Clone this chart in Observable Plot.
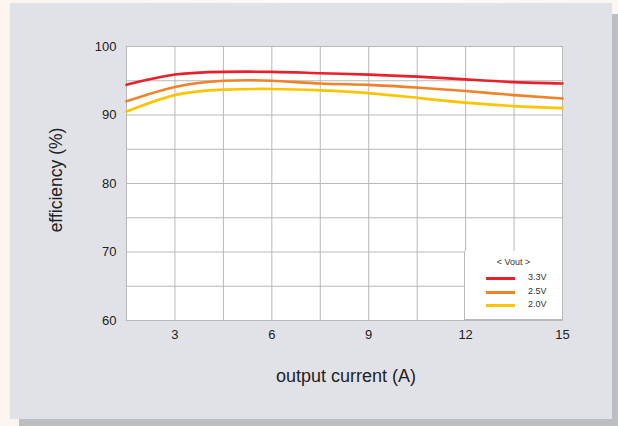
<!DOCTYPE html>
<html><head><meta charset="utf-8">
<script src="https://cdn.jsdelivr.net/npm/d3@7"></script>
<script src="https://cdn.jsdelivr.net/npm/@observablehq/plot@0.6"></script>
<style>
html,body{margin:0;padding:0;}
body{width:618px;height:426px;overflow:hidden;position:relative;background:linear-gradient(90deg,#fbf4ef,#fdfbfa 60%,#fbf6f2);font-family:"Liberation Sans",Arial,sans-serif;}
#shadow{position:absolute;left:19px;top:14px;width:601px;height:412px;background:#bdbec2;}
#panel{position:absolute;left:10px;top:3px;width:602px;height:416px;background:#e1e2e7;}
#chart{position:absolute;left:0;top:0;}
.title{position:absolute;color:#222;font-size:18px;white-space:nowrap;line-height:1;}
#legend{position:absolute;left:464px;top:251px;width:97px;height:68px;background:#fff;border:1px solid #b8b8b8;border-top:none;border-right:none;font-size:9px;color:#333;}
#legend .hdr{position:absolute;left:0;width:97px;top:6px;text-align:center;}
#legend .row{position:absolute;left:21px;height:10px;}
#legend .sw{position:absolute;left:0;top:4px;width:29px;height:3px;}
#legend .lb{position:absolute;left:42px;top:-1px;}
</style></head>
<body>
<div id="shadow"></div>
<div id="panel"></div>
<div id="chart"></div>
<div class="title" id="xt" style="left:346px;top:376px;transform:translate(-50%,-50%);">output current (A)</div>
<div class="title" id="yt" style="left:57px;top:180px;transform:translate(-50%,-50%) rotate(-90deg);font-size:17.5px;">efficiency (%)</div>
<div id="legend"></div>
<script>
const current = [1.5, 3, 4.5, 6, 7.5, 9, 10.5, 12, 13.5, 15];
const eff33 = [94.4, 95.9, 96.3, 96.3, 96.1, 95.9, 95.6, 95.2, 94.8, 94.6];
const eff25 = [92.0, 94.1, 95.0, 95.0, 94.6, 94.4, 94.0, 93.5, 92.9, 92.4];
const eff20 = [90.5, 92.9, 93.7, 93.8, 93.6, 93.2, 92.5, 91.8, 91.3, 91.0];
const seriesNames = ["3.3V", "2.5V", "2.0V"];
const seriesColors = ["#e8202a", "#f08228", "#fcc500"];
const xTicks = [3, 6, 9, 12, 15];
const yTicks = [60, 70, 80, 90, 100];
const xGrid = [3, 4.5, 6, 7.5, 9, 10.5, 12, 13.5];
const yGrid = [65, 70, 75, 80, 85, 90, 95];

const seriesVals = [eff33, eff25, eff20];
const data = seriesVals.flatMap((vals, i) => vals.map((v, j) => ({x: current[j], y: v, s: seriesNames[i]})));

const chart = Plot.plot({
  width: 618, height: 426,
  marginLeft: 126, marginRight: 56, marginTop: 46, marginBottom: 106,
  style: {background: "transparent", fontFamily: "Liberation Sans, Arial, sans-serif", fontSize: "13px", color: "#222"},
  x: {domain: [1.5, 15]},
  y: {domain: [60, 100]},
  color: {domain: seriesNames, range: seriesColors},
  marks: [
    Plot.frame({fill: "#fff"}),
    Plot.ruleX(xGrid, {stroke: "#b8b8b8", strokeWidth: 1}),
    Plot.ruleY(yGrid, {stroke: "#b8b8b8", strokeWidth: 1}),
    Plot.frame({stroke: "#b8b8b8", strokeWidth: 1}),
    Plot.axisX(xTicks, {tickSize: 0, tickPadding: 9, label: null, fontSize: 13}),
    Plot.axisY(yTicks, {tickSize: 0, tickPadding: 10, label: null, fontSize: 13}),
    Plot.line(data, {x: "x", y: "y", z: "s", stroke: "s", strokeWidth: 2.6, curve: "natural"})
  ]
});
document.getElementById("chart").appendChild(chart);

const lg = document.getElementById("legend");
lg.innerHTML = '<div class="hdr">&lt; Vout &gt;</div>' + seriesNames.map((n, i) =>
  `<div class="row" style="top:${22 + i * 13.5}px"><div class="sw" style="background:${seriesColors[i]}"></div><div class="lb">${n}</div></div>`).join("");
</script>
</body></html>
